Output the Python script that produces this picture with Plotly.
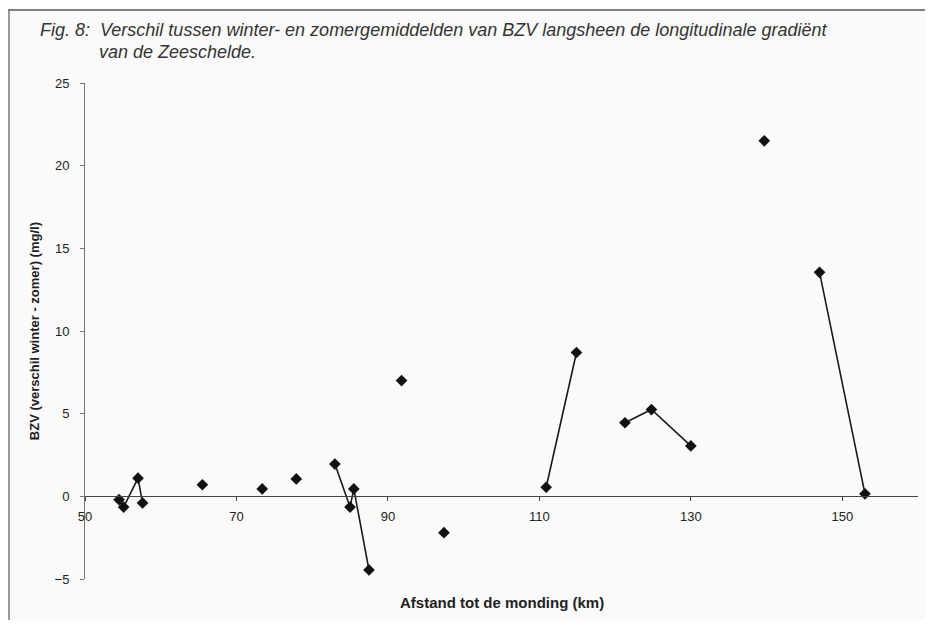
import plotly.graph_objects as go

# Afstand tot de monding (km) en BZV verschil (winter - zomer), None = onderbreking van de lijn
km = [54.5, 55.1, 57.0, 57.6, None,
      65.5, None,
      73.4, None,
      77.9, None,
      83.0, 85.0, 85.5, 87.5, None,
      91.8, None,
      97.4, None,
      110.9, 114.9, None,
      121.3, 124.8, 130.0, None,
      139.7, None,
      147.0, 153.0]
bzv_diff = [-0.2, -0.65, 1.1, -0.4, None,
            0.7, None,
            0.45, None,
            1.05, None,
            1.95, -0.65, 0.45, -4.45, None,
            7.0, None,
            -2.2, None,
            0.55, 8.7, None,
            4.45, 5.25, 3.05, None,
            21.5, None,
            13.55, 0.15]

x_ticks = [50, 70, 90, 110, 130, 150]
y_ticks = [-5, 0, 5, 10, 15, 20, 25]

title_line1 = "Fig. 8:  Verschil tussen winter- en zomergemiddelden van BZV langsheen de longitudinale gradiënt"
title_line2 = "van de Zeeschelde."

font_family = "Liberation Sans, Arial, sans-serif"

fig = go.Figure()
fig.add_trace(go.Scatter(
    x=km, y=bzv_diff, mode="lines+markers",
    line=dict(color="#1a1a1a", width=1.6),
    marker=dict(symbol="diamond", size=9, color="#111"),
    connectgaps=False, showlegend=False,
))

# the page body adds an 8px margin, so the figure is sized to fit inside it
fig.update_layout(
    width=917, height=612,
    margin=dict(l=77, r=7, t=75, b=41),
    paper_bgcolor="#fafafa",
    plot_bgcolor="#fafafa",
    font=dict(family=font_family, size=13, color="#222"),
    xaxis=dict(
        range=[50, 160], tickvals=x_ticks, showgrid=False, zeroline=False,
        showline=True, linecolor="#444", linewidth=1,
        ticks="outside", ticklen=4, tickcolor="#444",
        anchor="free", position=5 / 30,
        tickfont=dict(size=13), ticklabelstandoff=4,
    ),
    yaxis=dict(
        range=[-5, 25], tickvals=y_ticks, showgrid=False, zeroline=False,
        showline=True, linecolor="#777", linewidth=1,
        ticks="outside", ticklen=4, tickcolor="#777",
        tickfont=dict(size=13), ticklabelstandoff=8,
    ),
    annotations=[
        dict(text="<i>" + title_line1 + "</i>", xref="paper", yref="paper",
             x=-0.0564, y=1.1069, xanchor="left", yanchor="middle", showarrow=False,
             font=dict(size=18, color="#333")),
        dict(text="<i>" + title_line2 + "</i>", xref="paper", yref="paper",
             x=0.0144, y=1.0625, xanchor="left", yanchor="middle", showarrow=False,
             font=dict(size=18, color="#333")),
        dict(text="<b>Afstand tot de monding (km)</b>", xref="paper", yref="paper",
             x=0.5, y=-0.0464, xanchor="center", yanchor="middle", showarrow=False,
             font=dict(size=15, color="#222")),
        dict(text="<b>BZV (verschil winter - zomer) (mg/l)</b>", xref="paper", yref="paper",
             x=-0.061, y=0.5, xanchor="center", yanchor="middle", showarrow=False,
             textangle=-90, font=dict(size=13, color="#222")),
    ],
    shapes=[
        dict(type="line", xref="paper", yref="paper", x0=-0.1, x1=1.01, y0=1.147, y1=1.147,
             line=dict(color="#555", width=1.5)),
        dict(type="line", xref="paper", yref="paper", x0=-0.0912, x1=-0.0912, y0=-0.1, y1=1.147,
             line=dict(color="#777", width=1.5)),
    ],
)

fig.write_html("out.html")
